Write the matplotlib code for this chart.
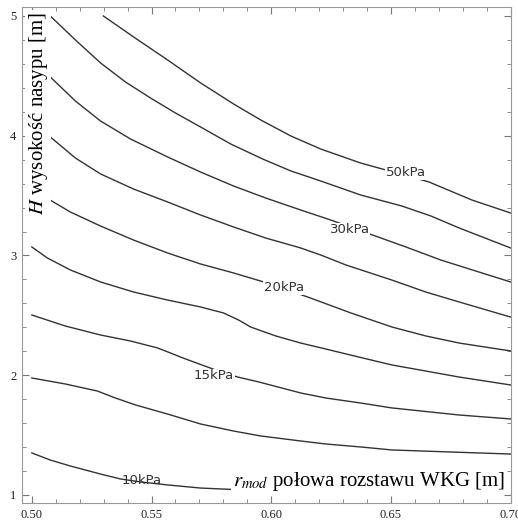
import matplotlib
matplotlib.use('Agg')
import matplotlib.pyplot as plt
from matplotlib.ticker import MultipleLocator

plt.rcParams['mathtext.fontset'] = 'stix'

# izolinie (r_mod [m], H [m])
x_50 = [0.5299, 0.5425, 0.5567, 0.5705, 0.5843, 0.5956, 0.6082, 0.6207, 0.6374, 0.6479, 0.6659, 0.6839, 0.700]
y_50 = [5.0, 4.825, 4.633, 4.441, 4.265, 4.132, 3.998, 3.889, 3.772, 3.714, 3.614, 3.463, 3.355]

x_40 = [0.5077, 0.5182, 0.5287, 0.5391, 0.5496, 0.5600, 0.5705, 0.5831, 0.5964, 0.6082, 0.6207, 0.6374,
        0.6546, 0.6667, 0.6785, 0.700]
y_40 = [5.0, 4.800, 4.608, 4.449, 4.315, 4.190, 4.073, 3.931, 3.806, 3.706, 3.622, 3.505,
        3.413, 3.330, 3.230, 3.063]

x_30 = [0.500, 0.5077, 0.5182, 0.5287, 0.5412, 0.5567, 0.5705, 0.5843, 0.5977, 0.6123, 0.6249, 0.6563,
        0.6709, 0.700]
y_30 = [4.633, 4.491, 4.290, 4.123, 3.973, 3.823, 3.697, 3.580, 3.480, 3.380, 3.296, 3.071,
        2.962, 2.779]

x_25 = [0.500, 0.5077, 0.5182, 0.5287, 0.5425, 0.5567, 0.5705, 0.5843, 0.5977, 0.6123, 0.6207, 0.6312,
        0.6504, 0.6646, 0.6785, 0.700]
y_25 = [4.123, 3.990, 3.814, 3.681, 3.555, 3.447, 3.338, 3.238, 3.146, 3.063, 3.004, 2.921,
        2.795, 2.695, 2.612, 2.486]

x_20 = [0.500, 0.5027, 0.5161, 0.5287, 0.5425, 0.5567, 0.5705, 0.5843, 0.5969, 0.6153, 0.6333, 0.6504,
        0.6646, 0.6785, 0.700]
y_20 = [3.555, 3.522, 3.363, 3.246, 3.129, 3.021, 2.929, 2.854, 2.779, 2.653, 2.520, 2.403,
        2.328, 2.269, 2.203]

x_17 = [0.500, 0.5065, 0.5161, 0.5287, 0.5425, 0.5567, 0.5705, 0.5801, 0.5864, 0.5914, 0.6019, 0.6123,
        0.6228, 0.6366, 0.6504, 0.6646, 0.6785, 0.700]
y_17 = [3.071, 2.979, 2.879, 2.779, 2.695, 2.628, 2.570, 2.520, 2.461, 2.403, 2.328, 2.269,
        2.219, 2.152, 2.086, 2.035, 1.985, 1.919]

x_15 = [0.500, 0.5140, 0.5287, 0.5412, 0.5525, 0.5579, 0.5621, 0.5676, 0.5768, 0.5860, 0.5948, 0.6123,
        0.6228, 0.6374, 0.6504, 0.6785, 0.700]
y_15 = [2.503, 2.411, 2.336, 2.286, 2.228, 2.186, 2.152, 2.111, 2.044, 1.985, 1.944, 1.852,
        1.810, 1.768, 1.727, 1.668, 1.635]

x_12 = [0.500, 0.5140, 0.5274, 0.5349, 0.5433, 0.5567, 0.5705, 0.5843, 0.5956, 0.6123, 0.6228, 0.6374,
        0.6504, 0.6751, 0.700]
y_12 = [1.977, 1.927, 1.868, 1.810, 1.752, 1.676, 1.593, 1.534, 1.493, 1.451, 1.426, 1.401,
        1.376, 1.359, 1.342]

x_10 = [0.500, 0.5077, 0.5161, 0.5287, 0.5370, 0.5454, 0.5567, 0.5705, 0.5885]
y_10 = [1.351, 1.292, 1.242, 1.175, 1.134, 1.109, 1.084, 1.058, 1.042]

lines = [(x_50, y_50), (x_40, y_40), (x_30, y_30), (x_25, y_25), (x_20, y_20),
         (x_17, y_17), (x_15, y_15), (x_12, y_12), (x_10, y_10)]

# opisy izolinii
label_text = ['50kPa', '30kPa', '20kPa', '15kPa', '10kPa']
label_x = [0.6563, 0.6328, 0.6052, 0.5760, 0.5458]
label_y = [3.689, 3.213, 2.729, 1.994, 1.117]

x_ticks = [0.50, 0.55, 0.60, 0.65, 0.70]
x_tick_labels = ['0.50', '0.55', '0.60', '0.65', '0.70']
y_ticks = [1, 2, 3, 4, 5]

fig = plt.figure(figsize=(5.18, 5.26), dpi=100)
ax = fig.add_axes([0.0425, 0.0437, 0.944, 0.943])

for xs, ys in lines:
    ax.plot(xs, ys, color='#333333', lw=1.0, solid_joinstyle='round')

for i, t in enumerate(label_text):
    box = None if t == '10kPa' else dict(facecolor='white', edgecolor='none', pad=0.5)
    ax.text(label_x[i], label_y[i], t, fontsize=9.5, color='#333333',
            ha='center', va='center', family='DejaVu Sans', bbox=box)

ax.set_xlim(0.4959, 0.7002)
ax.set_ylim(0.933, 5.075)
ax.set_xticks(x_ticks)
ax.set_xticklabels(x_tick_labels)
ax.set_yticks(y_ticks)
ax.xaxis.set_minor_locator(MultipleLocator(0.01))
ax.yaxis.set_minor_locator(MultipleLocator(0.2))
ax.tick_params(which='both', direction='in', top=True, right=True, color='#777777',
               labelsize=9, labelcolor='#222222')
ax.tick_params(which='major', length=5, width=0.8, pad=4)
ax.tick_params(which='minor', length=3, width=0.6)
for lab in ax.get_xticklabels() + ax.get_yticklabels():
    lab.set_family('Liberation Serif')
for sp in ax.spines.values():
    sp.set_color('#999999')
    sp.set_linewidth(0.8)

# opisy osi wewnatrz wykresu
ax.text(0.033, 0.99, '$H$ wysokość nasypu [m]', transform=ax.transAxes, rotation=90,
        ha='center', va='top', fontsize=15, family='Liberation Serif',
        bbox=dict(facecolor='white', edgecolor='none', pad=1))
ax.text(0.988, 0.044, '$r_{mod}$ połowa rozstawu WKG [m]', transform=ax.transAxes,
        ha='right', va='center', fontsize=15, family='Liberation Serif',
        bbox=dict(facecolor='white', edgecolor='none', pad=1))

fig.savefig('out.png', dpi=100)
